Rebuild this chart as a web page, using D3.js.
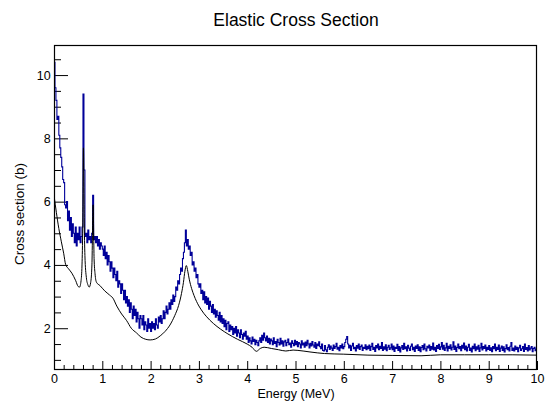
<!DOCTYPE html>
<html>
<head>
<meta charset="utf-8">
<script src="https://cdn.jsdelivr.net/npm/d3@7"></script>
<style>
  html, body { margin: 0; padding: 0; background: #fff; }
  text { font-family: "Liberation Sans", Arial, Helvetica, sans-serif; fill: #000; }
</style>
</head>
<body>
<svg id="chart" width="545" height="403"></svg>
<script>
// ---- Data ----
const chartTitle = "Elastic Cross Section";
const xTitle = "Energy (MeV)";
const yTitle = "Cross section (b)";
const xMajorTicks = [0,1,2,3,4,5,6,7,8,9,10];
const yMajorTicks = [2,4,6,8,10];

// Measured histogram: bin width 0.02 MeV, starting at 0 MeV
const binWidth = 0.02;
const measured = [
 10.4,9.6,9.2,8.6,8.7,8.1,7.7,7.4,7.1,6.7,6.6,5.9,5.8,6.0,5.4,5.7,5.1,5.5,4.9,5.3,5.0,4.7,5.2,4.6,5.0,
 4.8,5.2,4.7,4.9,5.2,9.4,7.0,4.9,5.0,4.7,5.1,4.8,4.9,4.7,5.0,6.2,4.8,4.9,4.7,4.9,4.6,4.8,4.5,4.7,4.6,
 4.5,4.3,4.6,4.2,4.4,4.0,4.3,4.1,3.8,4.1,3.9,3.6,3.9,3.7,3.5,3.8,3.3,3.5,3.4,3.1,3.4,3.2,2.9,3.2,2.8,
 3.0,2.7,2.9,2.5,2.8,2.6,2.3,2.7,2.4,2.6,2.2,2.5,2.3,2.0,2.4,2.3,2.1,2.4,1.95,2.2,2.1,1.9,2.3,2.0,2.15,
 1.9,2.2,2.0,2.15,1.95,2.3,2.1,2.0,2.35,2.2,2.4,2.15,2.3,2.55,2.3,2.5,2.7,2.45,2.6,2.8,2.6,2.9,2.75,3.05,2.85,
 3.0,3.3,3.2,3.5,3.4,3.7,3.9,3.8,4.2,4.4,4.7,5.1,4.6,4.8,4.5,4.6,4.3,4.4,4.0,4.1,3.8,3.9,3.6,3.7,3.4,
 3.3,3.4,3.1,3.2,2.9,3.15,2.8,3.0,2.75,2.95,2.6,2.85,2.7,2.5,2.75,2.45,2.6,2.35,2.55,2.4,2.25,2.5,2.2,2.4,2.15,
 2.3,2.05,2.25,1.95,2.15,2.2,1.9,2.1,1.95,2.05,1.8,2.0,1.85,2.05,1.75,1.95,1.85,1.7,1.95,1.8,1.65,1.85,1.75,1.9,1.65,
 1.75,1.55,1.7,1.6,1.5,1.72,1.58,1.65,1.48,1.62,1.55,1.45,1.6,1.7,1.55,1.78,1.62,1.85,1.7,1.6,1.75,1.55,1.68,1.5,1.66,
 1.6,1.48,1.7,1.52,1.58,1.42,1.65,1.55,1.47,1.68,1.5,1.6,1.43,1.57,1.62,1.45,1.55,1.66,1.48,1.53,1.4,1.6,1.52,1.45,1.62,
 1.48,1.58,1.42,1.55,1.5,1.38,1.6,1.47,1.53,1.4,1.56,1.45,1.62,1.5,1.38,1.52,1.44,1.58,1.47,1.4,1.55,1.36,1.5,1.45,1.57,
 1.42,1.35,1.5,1.3,1.28,1.45,1.32,1.26,1.4,1.48,1.33,1.44,1.37,1.3,1.47,1.36,1.42,1.52,1.34,1.4,1.29,1.45,1.38,1.5,1.35,
 1.42,1.55,1.65,1.74,1.5,1.38,1.46,1.3,1.44,1.52,1.35,1.4,1.28,1.45,1.37,1.5,1.33,1.42,1.47,1.3,1.4,1.36,1.48,1.32,1.43,
 1.35,1.47,1.3,1.42,1.52,1.33,1.4,1.27,1.45,1.38,1.5,1.32,1.43,1.36,1.55,1.3,1.41,1.34,1.48,1.29,1.4,1.46,1.33,1.38,1.5,
 1.32,1.44,1.27,1.4,1.36,1.49,1.3,1.42,1.25,1.38,1.45,1.33,1.52,1.35,1.41,1.28,1.46,1.37,1.3,1.43,1.5,1.32,1.4,1.27,1.44,
 1.36,1.48,1.3,1.41,1.26,1.39,1.45,1.32,1.5,1.35,1.28,1.43,1.38,1.47,1.3,1.42,1.34,1.53,1.31,1.4,1.27,1.45,1.36,1.49,1.33,
 1.41,1.55,1.34,1.46,1.3,1.38,1.52,1.28,1.43,1.36,1.48,1.31,1.4,1.57,1.33,1.44,1.27,1.39,1.5,1.35,1.42,1.29,1.46,1.37,1.53,
 1.32,1.44,1.28,1.4,1.49,1.3,1.37,1.25,1.43,1.35,1.5,1.29,1.41,1.34,1.46,1.27,1.38,1.52,1.31,1.42,1.36,1.47,1.28,1.4,1.33,
 1.45,1.3,1.38,1.26,1.42,1.35,1.5,1.29,1.4,1.33,1.47,1.27,1.37,1.44,1.3,1.41,1.25,1.36,1.48,1.32,1.39,1.28,1.43,1.55,1.3,
 1.37,1.28,1.44,1.33,1.4,1.26,1.38,1.46,1.3,1.35,1.42,1.27,1.5,1.33,1.39,1.28,1.45,1.31,1.37,1.42,1.26,1.36,1.4,1.29,1.34
];

// Evaluated cross section curve
const evalEnergy = [0,0.05,0.1,0.15,0.2,0.24,0.3,0.37,0.45,0.5,0.53,0.56,0.58,0.595,0.61,0.625,0.64,0.67,0.7,0.73,0.76,0.785,0.81,0.83,0.85,0.88,0.95,1.05,1.15,1.22,1.3,1.4,1.5,1.6,1.71,1.8,1.9,1.99,2.1,2.2,2.3,2.4,2.5,2.58,2.64,2.68,2.71,2.74,2.77,2.8,2.85,2.9,2.95,3.05,3.15,3.3,3.45,3.6,3.8,4.0,4.1,4.19,4.27,4.35,4.5,4.65,4.8,4.95,5.05,5.3,5.6,6.0,6.5,7.0,7.6,8.0,8.5,9.0,9.5,10.0];
const evalXS     = [6.2,5.65,5.15,4.75,4.37,4.02,3.88,3.74,3.5,3.32,3.3,3.5,4.0,5.2,7.7,5.5,4.3,3.6,3.38,3.3,3.45,4.0,5.9,4.2,3.72,3.45,3.35,3.18,3.05,2.95,2.7,2.45,2.25,2.0,1.85,1.72,1.65,1.63,1.66,1.76,1.9,2.1,2.4,2.72,3.1,3.45,3.8,3.98,3.8,3.55,3.25,3.03,2.85,2.58,2.38,2.15,1.97,1.82,1.65,1.5,1.4,1.27,1.36,1.4,1.36,1.32,1.28,1.31,1.3,1.25,1.2,1.18,1.15,1.14,1.13,1.16,1.16,1.16,1.16,1.15];

// ---- Layout ----
const padL = 54, padR = 537, padT = 45, padB = 370;
const svg = d3.select("#chart");
const x = d3.scaleLinear().domain([0, 10]).range([padL, padR]);
const y = d3.scaleLinear().domain([0.68, 10.95]).range([padB, padT]);

const xMinor = d3.range(0, 10.001, 0.2).map(v => +v.toFixed(2)).filter(v => Math.abs(v - Math.round(v)) > 1e-6);
const yMinor = d3.range(1, 10.9, 0.5).filter(v => v % 2 !== 0);

svg.append("defs").append("clipPath").attr("id", "clip")
  .append("rect").attr("x", padL).attr("y", padT).attr("width", padR - padL).attr("height", padB - padT);

// Minor ticks
const gxm = svg.append("g").attr("transform", `translate(0,${padB})`)
  .call(d3.axisBottom(x).tickValues(xMinor).tickSize(-5).tickFormat(""));
const gym = svg.append("g").attr("transform", `translate(${padL},0)`)
  .call(d3.axisLeft(y).tickValues(yMinor).tickSize(-7).tickFormat(""));
// Major ticks
const gx = svg.append("g").attr("transform", `translate(0,${padB})`)
  .call(d3.axisBottom(x).tickValues(xMajorTicks).tickSize(-9).tickPadding(4.4).tickFormat(d3.format("d")));
const gy = svg.append("g").attr("transform", `translate(${padL},0)`)
  .call(d3.axisLeft(y).tickValues(yMajorTicks).tickSize(-14).tickPadding(3.3).tickFormat(d3.format("d")));
[gxm, gym, gx, gy].forEach(g => {
  g.select(".domain").remove();
  g.selectAll("line").attr("stroke", "#000").attr("stroke-width", 1);
});
[gx, gy].forEach(g => g.selectAll("text").style("font-size", "12.5px").attr("fill", "#000"));

// Data lines
const plot = svg.append("g").attr("clip-path", "url(#clip)");
const histPts = measured.map((v, i) => [i * binWidth, v]);
histPts.push([measured.length * binWidth, measured[measured.length - 1]]);
plot.append("path")
  .datum(histPts)
  .attr("fill", "none").attr("stroke", "#000099").attr("stroke-width", 1.1)
  .attr("d", d3.line().x(d => x(d[0])).y(d => y(d[1])).curve(d3.curveStepAfter));

const evalPts = evalEnergy.map((e, i) => [e, evalXS[i]]);
plot.append("path")
  .datum(evalPts)
  .attr("fill", "none").attr("stroke", "#000").attr("stroke-width", 1)
  .attr("d", d3.line().x(d => x(d[0])).y(d => y(d[1])).curve(d3.curveMonotoneX));

// Frame
svg.append("rect").attr("x", padL + 0.5).attr("y", padT + 0.5)
  .attr("width", padR - padL - 1).attr("height", padB - padT - 1)
  .attr("fill", "none").attr("stroke", "#000").attr("stroke-width", 1.2);

// Titles
svg.append("text").attr("x", 296).attr("y", 26).attr("text-anchor", "middle")
  .style("font-size", "17.5px").text(chartTitle);
svg.append("text").attr("x", 296).attr("y", 398).attr("text-anchor", "middle")
  .style("font-size", "12.5px").text(xTitle);
svg.append("text").attr("transform", "translate(23.5,214) rotate(-90)").attr("text-anchor", "middle")
  .style("font-size", "13.5px").text(yTitle);
</script>
</body>
</html>
